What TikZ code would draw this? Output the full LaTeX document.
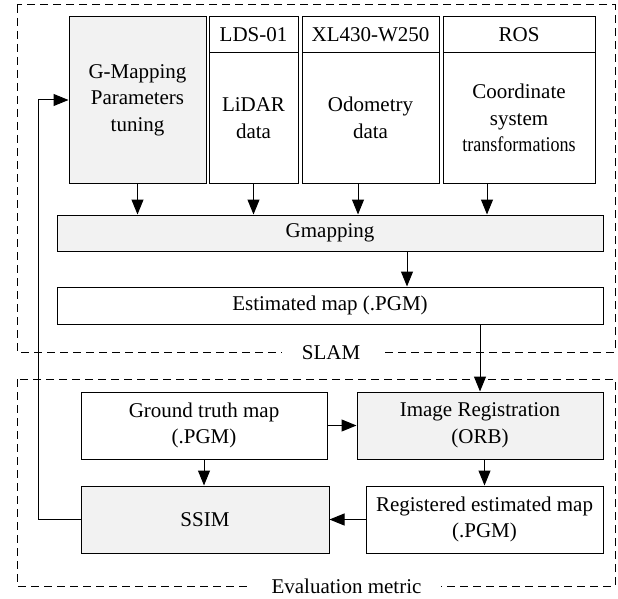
\documentclass[tikz,border=0pt]{standalone}
\usepackage{fontspec}
\setmainfont{Liberation Serif}
\usetikzlibrary{arrows.meta}
\begin{document}
\begin{tikzpicture}[x=1pt, y=-1pt,
    box/.style={draw=black, line width=1pt, rectangle, inner sep=0pt, align=center,
        font=\fontsize{21}{26.5}\selectfont},
    greybox/.style={box, fill=fillColourG},
    frame/.style={draw=black, line width=1pt, dash pattern=on 8pt off 5pt},
    framelabel/.style={fill=white, inner xsep=20pt, inner ysep=2pt,
        font=\fontsize{21}{26.5}\selectfont},
    arr/.style={draw=black, line width=1pt, -{Triangle[length=15pt,width=12pt]}}]
    \definecolor{fillColourG}{HTML}{F2F2F2}

    \useasboundingbox (0,0) rectangle (618,599);

    % Draw dashed frames
    \draw[frame] (17,5) rectangle (615,352);
    \draw[frame] (17,379) rectangle (615,586);
    \node[framelabel] (slamLabel) at (331,353) {SLAM};
    \node[framelabel] (evalLabel) at (346.5,586) {Evaluation metric};

    % SLAM inputs
    \node[greybox, minimum width=137, minimum height=166] (param) at (137.5,100)
        {G-Mapping\\Parameters\\tuning};
    \node[box, minimum width=89, minimum height=36] (ldsHead) at (253.5,35) {LDS-01};
    \node[box, minimum width=89, minimum height=130] (lds) at (253.5,118) {LiDAR\\data};
    \node[box, minimum width=137, minimum height=36] (xlHead) at (370.5,35) {XL430-W250};
    \node[box, minimum width=137, minimum height=130] (xl) at (370.5,118) {Odometry\\data};
    \node[box, minimum width=152, minimum height=36] (rosHead) at (519,35) {ROS};
    \node[box, minimum width=152, minimum height=130] (ros) at (519,118)
        {Coordinate\\system\\\scalebox{0.86}[1]{transformations}};

    % SLAM processing
    \node[greybox, minimum width=546, minimum height=36] (gmap) at (330,233) {Gmapping};
    \node[box, minimum width=546, minimum height=37] (estMap) at (330,305.5) {Estimated map (.PGM)};

    % Evaluation
    \node[box, minimum width=246, minimum height=67] (truthMap) at (204,425.5)
        {Ground truth map\\(.PGM)};
    \node[greybox, minimum width=246, minimum height=67] (imgReg) at (480,425.5)
        {Image Registration\\(ORB)};
    \node[greybox, minimum width=248, minimum height=67] (ssim) at (205,519.5) {SSIM};
    \node[box, minimum width=237, minimum height=67] (regMap) at (484.5,519.5)
        {Registered estimated map\\(.PGM)};
    \coordinate (back) at (38,0);

    % Draw connectors
    \draw[arr] (param.south) -- (param.south |- gmap.north);
    \draw[arr] (lds.south) -- (lds.south |- gmap.north);
    \draw[arr] ([xshift=-12.5pt]xl.south) -- ([xshift=-12.5pt]xl.south |- gmap.north);
    \draw[arr] ([xshift=-32pt]ros.south) -- ([xshift=-32pt]ros.south |- gmap.north);
    \draw[arr] ([xshift=77pt]gmap.south) -- ([xshift=77pt]gmap.south |- estMap.north);
    \draw[arr] (imgReg.north |- estMap.south) -- (imgReg.north);
    \draw[arr] (truthMap.east) -- (imgReg.west);
    \draw[arr] (truthMap.south) -- (truthMap.south |- ssim.north);
    \draw[arr] (regMap.north |- imgReg.south) -- (regMap.north);
    \draw[arr] (regMap.west) -- (ssim.east);
    \draw[arr] (ssim.west) -- (ssim.west -| back) |- (param.west);

\end{tikzpicture}
\end{document}
